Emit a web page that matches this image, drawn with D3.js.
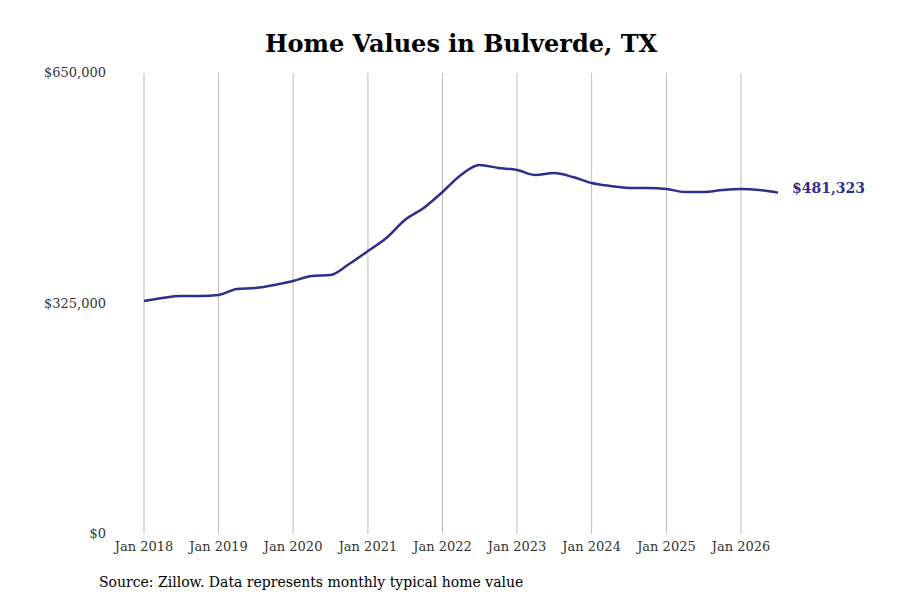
<!DOCTYPE html>
<html><head><meta charset="utf-8">
<script src="https://cdn.jsdelivr.net/npm/d3@7"></script>
<style>body{margin:0;background:#fff}text{font-family:"DejaVu Serif",serif}</style>
</head><body><svg id="chart" width="900" height="600"></svg>
<script>
// quarterly readings of typical home value
const dates = ["2018-01","2018-04","2018-07","2018-10","2019-01","2019-04","2019-07","2019-10",
  "2020-01","2020-04","2020-07","2020-10","2021-01","2021-04","2021-07","2021-10",
  "2022-01","2022-04","2022-07","2022-10","2023-01","2023-04","2023-07","2023-10",
  "2024-01","2024-04","2024-07","2024-10","2025-01","2025-04","2025-07","2025-10",
  "2026-01","2026-04","2026-07"];
const values = [328500,332800,335600,335600,337000,345500,346900,351100,
  356700,363800,365200,380700,399000,417400,442700,459700,
  482200,506200,520300,516100,513300,506200,509000,503400,
  494900,490700,487900,487900,486500,482200,482200,485000,
  486500,485000,481323];
const yTicks = [0,325000,650000];
const xTickYears = [2018,2019,2020,2021,2022,2023,2024,2025,2026];

const parse = d3.timeParse("%Y-%m");
const data = dates.map((d,i)=>({date:parse(d),value:values[i]}));
const svg = d3.select("#chart");
const x = d3.scaleTime().domain([new Date(2018,0,1),new Date(2026,0,1)]).range([144,741]);
const y = d3.scaleLinear().domain([0,650000]).range([534,73]);
const fmt = d3.format("$,");

svg.append("g").selectAll("line").data(xTickYears).join("line")
  .attr("x1",d=>x(new Date(d,0,1))).attr("x2",d=>x(new Date(d,0,1)))
  .attr("y1",73).attr("y2",534).attr("stroke","#bbb").attr("stroke-width",1);

svg.append("g").selectAll("text").data(xTickYears).join("text")
  .attr("x",d=>x(new Date(d,0,1))).attr("y",551).attr("text-anchor","middle")
  .attr("font-size",13).attr("fill","#333").text(d=>"Jan "+d);

svg.append("g").selectAll("text").data(yTicks).join("text")
  .attr("x",106).attr("y",d=>y(d)+4).attr("text-anchor","end")
  .attr("font-size",13).attr("fill","#333").text(d=>fmt(d));

svg.append("path").datum(data)
  .attr("fill","none").attr("stroke","#2e2e8c").attr("stroke-width",2.5)
  .attr("d",d3.line().x(d=>x(d.date)).y(d=>y(d.value)).curve(d3.curveMonotoneX));

const last = data[data.length-1];
svg.append("text").attr("x",x(last.date)+14).attr("y",y(last.value)+0)
  .attr("font-size",14).attr("font-weight","bold").attr("fill","#2e2e8c").text(fmt(last.value));

svg.append("text").attr("x",461).attr("y",52).attr("text-anchor","middle")
  .attr("font-size",24).attr("font-weight","bold").text("Home Values in Bulverde, TX");

svg.append("text").attr("x",99).attr("y",587).attr("font-size",14)
  .text("Source: Zillow. Data represents monthly typical home value");
</script></body></html>
